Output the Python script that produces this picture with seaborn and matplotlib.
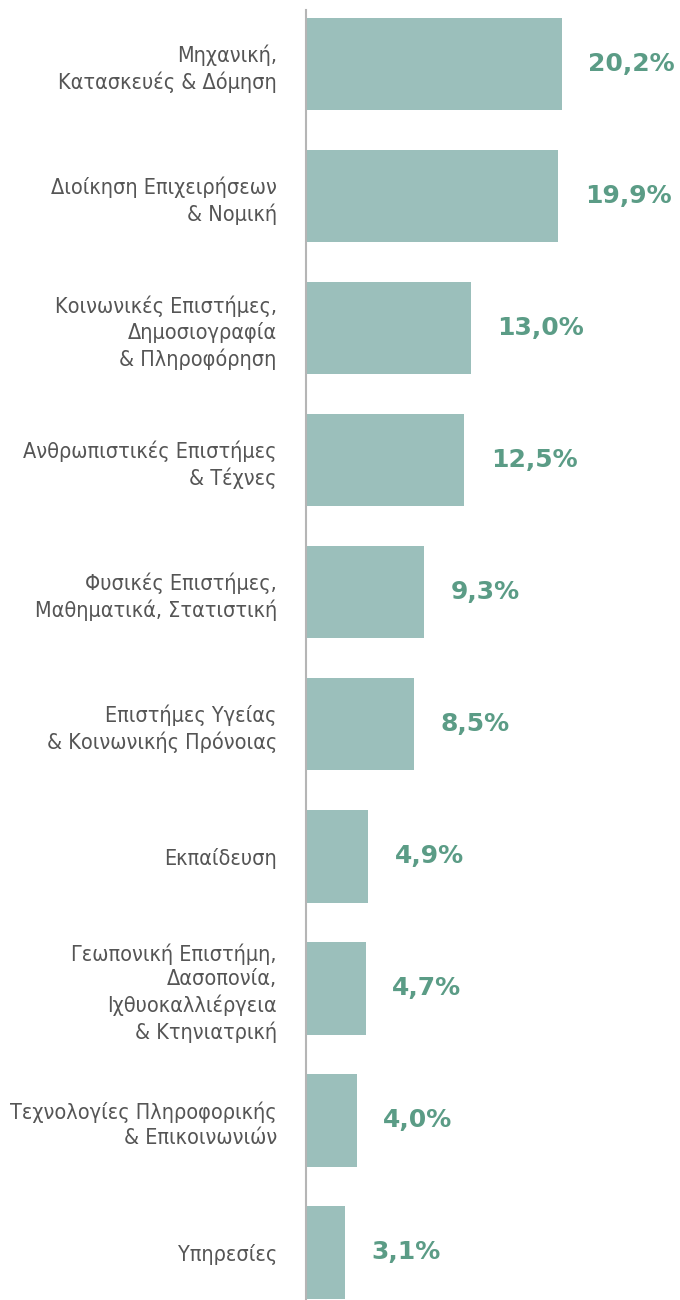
import matplotlib
matplotlib.use("Agg")
import matplotlib.pyplot as plt
import pandas as pd
import seaborn as sns

categories = [
    "Μηχανική,\nΚατασκευές & Δόμηση",
    "Διοίκηση Επιχειρήσεων\n& Νομική",
    "Κοινωνικές Επιστήμες,\nΔημοσιογραφία\n& Πληροφόρηση",
    "Ανθρωπιστικές Επιστήμες\n& Τέχνες",
    "Φυσικές Επιστήμες,\nΜαθηματικά, Στατιστική",
    "Επιστήμες Υγείας\n& Κοινωνικής Πρόνοιας",
    "Εκπαίδευση",
    "Γεωπονική Επιστήμη,\nΔασοπονία,\nΙχθυοκαλλιέργεια\n& Κτηνιατρική",
    "Τεχνολογίες Πληροφορικής\n& Επικοινωνιών",
    "Υπηρεσίες",
]
shares = [20.2, 19.9, 13.0, 12.5, 9.3, 8.5, 4.9, 4.7, 4.0, 3.1]

df = pd.DataFrame({"field": categories, "share": shares})

sns.set_style("white")
plt.rcParams["font.family"] = ["DejaVu Sans"]

fig = plt.figure(figsize=(6.8, 13), dpi=100)
ax = fig.add_axes([306 / 680, 0, 1 - 306 / 680, 1])

sns.barplot(data=df, y="field", x="share", color="#9bbfbb", saturation=1,
            width=0.7, orient="h", linewidth=0, ax=ax)

labels = [f"{v:.1f}".replace(".", ",") + "%" for v in shares]
ax.bar_label(ax.containers[0], labels=labels, padding=19, fontsize=18,
             fontweight="bold", color="#5b9c86")

ax.set_xlim(0, 29.5)
ax.set_ylim(9.36, -0.485)
ax.set_xlabel("")
ax.set_ylabel("")
ax.set_xticks([])
for side in ["top", "right", "bottom"]:
    ax.spines[side].set_visible(False)
ax.spines["left"].set_color("#b5b5b5")
ax.spines["left"].set_linewidth(1.5)
ax.spines["left"].set_bounds(9.36, -0.41)
ax.tick_params(axis="y", length=0, pad=21)
for t in ax.get_yticklabels():
    t.set_fontsize(15.5)
    t.set_color("#555555")
    t.set_fontstretch("condensed")
    t.set_linespacing(1.3)

fig.savefig("out.png", dpi=100)
